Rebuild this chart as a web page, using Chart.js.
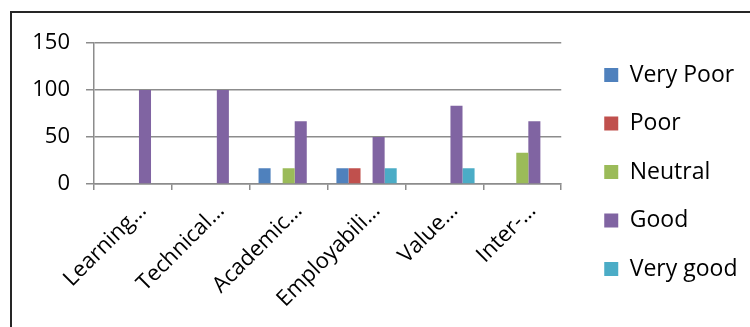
<!DOCTYPE html>
<html>
<head>
<meta charset="utf-8">
<script src="https://cdn.jsdelivr.net/npm/chart.js@4.4.0/dist/chart.umd.min.js"></script>
<style>
  html, body { margin: 0; padding: 0; background: #fff; overflow: hidden; }
  #wrap { position: relative; width: 750px; height: 327px; }
  #frame {
    position: absolute; left: 10px; top: 11px; width: 800px; height: 400px;
    border: 2px solid #262626; box-sizing: border-box;
  }
  #chart { position: absolute; left: 0; top: 0; }
</style>
</head>
<body>
<div id="wrap">
  <div id="frame"></div>
  <canvas id="chart" width="750" height="327"></canvas>
</div>
<script>
const categories = ["Learning…", "Technical…", "Academic…", "Employabili…", "Value…", "Inter-…"];
const veryPoor = [0, 0, 16.7, 16.7, 0, 0];
const poor = [0, 0, 0, 16.7, 0, 0];
const neutral = [0, 0, 16.7, 0, 0, 33.3];
const good = [100, 100, 66.7, 50, 83.3, 66.7];
const veryGood = [0, 0, 0, 16.7, 16.7, 0];
const yTicks = [0, 50, 100, 150];

const gridColor = "#8c8c8c";
const font = { family: "'Open Sans', sans-serif", size: 22 };

const series = [
  { label: "Very Poor", data: veryPoor, color: "#4F81BD" },
  { label: "Poor", data: poor, color: "#C0504D" },
  { label: "Neutral", data: neutral, color: "#9BBB59" },
  { label: "Good", data: good, color: "#8064A2" },
  { label: "Very good", data: veryGood, color: "#4BACC6" },
];

// blank scale used only to reserve space
const spacer = (pos, size) => ({
  type: "linear",
  position: pos,
  display: true,
  grid: { display: false },
  border: { display: false },
  ticks: { display: false },
  afterFit: (scale) => {
    if (pos === "top") scale.height = size;
    else scale.width = size;
  },
});

const ctx = document.getElementById("chart").getContext("2d");
new Chart(ctx, {
  type: "bar",
  data: {
    labels: categories,
    datasets: series.map((s) => ({
      label: s.label,
      data: s.data,
      backgroundColor: s.color,
      borderWidth: 0,
      categoryPercentage: 0.774,
      barPercentage: 1,
    })),
  },
  options: {
    responsive: false,
    animation: false,
    layout: { padding: { top: 17, bottom: 0, left: 0, right: 2.5 } },
    plugins: {
      tooltip: { enabled: false },
      legend: {
        position: "right",
        align: "center",
        maxWidth: 220,
        labels: {
          boxWidth: 14,
          boxHeight: 14,
          padding: 25.5,
          color: "#000",
          font: { family: "'Open Sans', sans-serif", size: 23 },
        },
      },
    },
    scales: {
      x: {
        grid: {
          display: true,
          drawOnChartArea: false,
          drawTicks: true,
          tickLength: 6,
          color: gridColor,
          lineWidth: 1.5,
        },
        border: { display: true, color: gridColor, width: 1.5 },
        ticks: {
          color: "#000",
          font: font,
          autoSkip: false,
          minRotation: 45,
          maxRotation: 45,
          padding: 8,
          labelOffset: 10,
        },
        afterFit: (scale) => { scale.height = 143; },
      },
      y: {
        min: 0,
        max: 150,
        afterBuildTicks: (scale) => { scale.ticks = yTicks.map((v) => ({ value: v })); },
        grid: { color: gridColor, lineWidth: 1.5, tickLength: 8 },
        border: { display: true, color: gridColor, width: 1.5 },
        ticks: { color: "#000", font: font, padding: 16 },
        afterFit: (scale) => { scale.width = 94; },
      },
      topGap: spacer("top", 26),
      rightGap: spacer("right", 17.5),
    },
  },
});
</script>
</body>
</html>
